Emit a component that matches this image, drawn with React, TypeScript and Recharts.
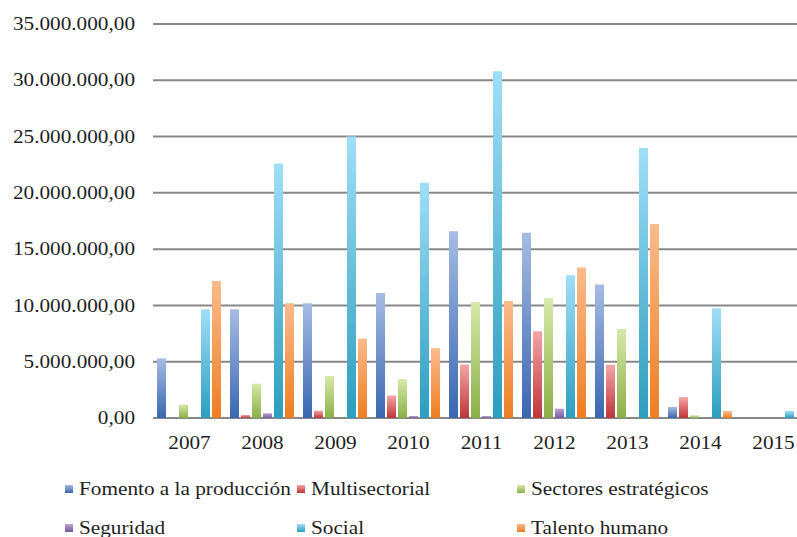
import React from "react";
import { BarChart, Bar, XAxis, YAxis, CartesianGrid } from "recharts";

const years = ["2007", "2008", "2009", "2010", "2011", "2012", "2013", "2014", "2015"];
const fomento = [5300000, 9650000, 10200000, 11100000, 16600000, 16450000, 11870000, 980000, 0];
const multisectorial = [0, 270000, 650000, 2000000, 4750000, 7700000, 4730000, 1860000, 0];
const sectores = [1200000, 3050000, 3730000, 3460000, 10300000, 10630000, 7900000, 240000, 0];
const seguridad = [0, 420000, 0, 180000, 180000, 830000, 0, 0, 0];
const social = [9650000, 22600000, 25000000, 20900000, 30800000, 12670000, 23980000, 9740000, 620000];
const talento = [12170000, 10200000, 7050000, 6200000, 10400000, 13380000, 17230000, 620000, 0];
const yTicks = [0, 5000000, 10000000, 15000000, 20000000, 25000000, 30000000, 35000000];

const seriesNames = [
  "Fomento a la producción",
  "Multisectorial",
  "Sectores estratégicos",
  "Seguridad",
  "Social",
  "Talento humano",
];

const data = years.map((y, i) => ({
  year: y,
  fomento: fomento[i],
  multisectorial: multisectorial[i],
  sectores: sectores[i],
  seguridad: seguridad[i],
  social: social[i],
  talento: talento[i],
}));

const series = [
  { key: "fomento", name: seriesNames[0], top: "#A6BCE4", bottom: "#3A67B0" },
  { key: "multisectorial", name: seriesNames[1], top: "#F4A5A5", bottom: "#BF3538" },
  { key: "sectores", name: seriesNames[2], top: "#D6E9AA", bottom: "#8BAF47" },
  { key: "seguridad", name: seriesNames[3], top: "#B9A5D5", bottom: "#7859A2" },
  { key: "social", name: seriesNames[4], top: "#A0DEF8", bottom: "#2C9EBE" },
  { key: "talento", name: seriesNames[5], top: "#FBBB8C", bottom: "#EE7E22" },
];

const FONT = "'Liberation Serif', 'Times New Roman', serif";
const SX = 1.18;

const fmt = (v: number) => {
  const s = Math.round(v).toString().replace(/\B(?=(\d{3})+(?!\d))/g, ".");
  return s + ",00";
};

const YTick = (props: any) => {
  const { x, y, payload } = props;
  return (
    <g transform={`translate(${x},${y})`}>
      <text
        transform={`scale(${SX} 1)`}
        textAnchor="end"
        dy="0.34em"
        fontFamily={FONT}
        fontSize={18}
        fill="#1e1e1e"
      >
        {fmt(payload.value)}
      </text>
    </g>
  );
};

const XTick = (props: any) => {
  const { x, y, payload } = props;
  return (
    <g transform={`translate(${x},${y})`}>
      <text
        transform={`scale(${SX} 1)`}
        textAnchor="middle"
        y={31}
        fontFamily={FONT}
        fontSize={18}
        fill="#1e1e1e"
      >
        {payload.value}
      </text>
    </g>
  );
};

const legendCols = [65, 297, 517];
const legendRows = [489, 528];

export default function App() {
  return (
    <div
      style={{
        position: "absolute",
        left: 0,
        top: 0,
        width: 797,
        height: 537,
        overflow: "hidden",
        background: "#fff",
      }}
    >
      <BarChart
        width={830}
        height={537}
        data={data}
        margin={{ top: 24, right: 20, left: 0, bottom: 0 }}
        barCategoryGap={4}
        barGap={2}
      >
        <defs>
          {series.map((s) => (
            <linearGradient key={s.key} id={`g-${s.key}`} x1="0" y1="0" x2="0" y2="1">
              <stop offset="0%" stopColor={s.top} />
              <stop offset="100%" stopColor={s.bottom} />
            </linearGradient>
          ))}
        </defs>
        <CartesianGrid vertical={false} stroke="#888888" strokeWidth={2} />
        <YAxis
          width={153}
          domain={[0, 35000000]}
          ticks={yTicks}
          axisLine={false}
          tickLine={false}
          tickSize={0}
          tickMargin={18}
          tick={<YTick />}
          interval={0}
        />
        <XAxis
          dataKey="year"
          height={119}
          axisLine={false}
          tickLine={false}
          tickSize={0}
          tickMargin={0}
          tick={<XTick />}
          interval={0}
        />
        {series.map((s) => (
          <Bar
            key={s.key}
            dataKey={s.key}
            name={s.name}
            fill={`url(#g-${s.key})`}
            isAnimationActive={false}
          />
        ))}
      </BarChart>
      {series.map((s, i) => {
        const col = i % 3;
        const row = Math.floor(i / 3);
        return (
          <div
            key={s.key}
            style={{
              position: "absolute",
              left: legendCols[col],
              top: legendRows[row] - 12,
              height: 24,
              display: "flex",
              alignItems: "center",
              whiteSpace: "nowrap",
            }}
          >
            <div
              style={{
                width: 8,
                height: 8,
                background: `linear-gradient(${s.top}, ${s.bottom})`,
                marginRight: 6,
              }}
            />
            <span
              style={{
                display: "inline-block",
                fontFamily: FONT,
                fontSize: 18,
                color: "#1e1e1e",
                transform: `scaleX(${SX})`,
                transformOrigin: "left center",
                lineHeight: "24px",
              }}
            >
              {s.name}
            </span>
          </div>
        );
      })}
    </div>
  );
}
